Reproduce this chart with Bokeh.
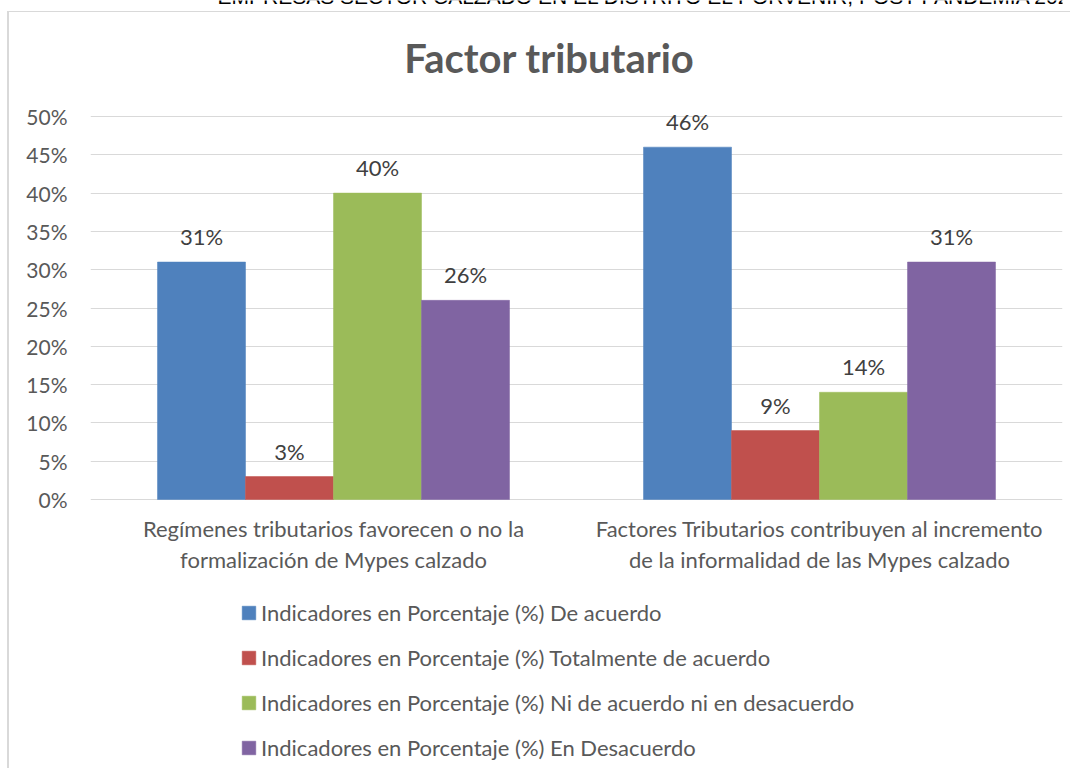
from bokeh.plotting import figure
from bokeh.models import (ColumnDataSource, FactorRange, Range1d, LabelSet, Label,
                          Legend, LegendItem, NumeralTickFormatter, FixedTicker)
from bokeh.transform import dodge
from bokeh.core.properties import value
from bokeh.embed import file_html
from bokeh.resources import INLINE

# ---------------- data ----------------
categories = [
    "Regímenes tributarios favorecen o no la\nformalización de Mypes calzado",
    "Factores Tributarios contribuyen al incremento\nde la informalidad de las Mypes calzado",
]
series_names = [
    "Indicadores en Porcentaje (%) De acuerdo",
    "Indicadores en Porcentaje (%) Totalmente de acuerdo",
    "Indicadores en Porcentaje (%) Ni de acuerdo ni en desacuerdo",
    "Indicadores en Porcentaje (%) En Desacuerdo",
]
de_acuerdo = [0.31, 0.46]
totalmente_de_acuerdo = [0.03, 0.09]
ni_de_acuerdo = [0.40, 0.14]
en_desacuerdo = [0.26, 0.31]
series_values = [de_acuerdo, totalmente_de_acuerdo, ni_de_acuerdo, en_desacuerdo]
y_ticks = [0, 0.05, 0.10, 0.15, 0.20, 0.25, 0.30, 0.35, 0.40, 0.45, 0.50]
title_text = "Factor tributario"
header_text = "EMPRESAS SECTOR CALZADO EN EL DISTRITO EL PORVENIR, POST PANDEMIA 2021"

# ---------------- style / layout (pixels) ----------------
colors = ["#4F81BD", "#C0504D", "#9BBB59", "#8064A2"]
FONT = "Lato"
FS = "22px"
TXT = "#595959"

W, H = 1070, 768
FL, FR = 90, 1062          # plot area left/right (page px)
Y0_PX, Y50_PX = 499, 116   # page px of 0% and 50%
px_per_unit = (Y0_PX - Y50_PX) / 0.5
y_top = Y0_PX / px_per_unit
y_bot = -(H - Y0_PX) / px_per_unit

def sx(px):  # page x -> frame screen x
    return px - FL

def sy(py):  # page y -> frame screen y (from bottom)
    return H - py

p = figure(
    x_range=FactorRange(factors=categories, range_padding=0),
    y_range=Range1d(y_bot, y_top),
    width=W, height=H,
    output_backend="svg", toolbar_location=None,
    min_border_left=FL, min_border_right=W - FR,
    min_border_top=0, min_border_bottom=0,
)
p.styles = {
    "position": "absolute", "left": "0px", "top": "0px",
    "background": ("linear-gradient(#d9d9d9,#d9d9d9) 7px 11px / 2px 100% no-repeat, "
                   "linear-gradient(#d9d9d9,#d9d9d9) 7px 11px / 100% 1px no-repeat, white"),
}
p.outline_line_color = None
p.background_fill_alpha = 0
p.border_fill_alpha = 0

p.xgrid.grid_line_color = None
p.ygrid.ticker = FixedTicker(ticks=y_ticks)
p.ygrid.grid_line_color = "#d9d9d9"
p.ygrid.grid_line_width = 1

p.yaxis.ticker = FixedTicker(ticks=y_ticks)
p.yaxis.formatter = NumeralTickFormatter(format="0%")
p.yaxis.axis_line_color = None
p.yaxis.major_tick_line_color = None
p.yaxis.minor_tick_line_color = None
p.yaxis.major_label_standoff = 17
p.yaxis.major_label_text_font = FONT
p.yaxis.major_label_text_font_size = "21px"
p.yaxis.major_label_text_color = TXT

p.xaxis.fixed_location = 0
p.xaxis.axis_line_color = None
p.xaxis.major_tick_line_color = None
p.xaxis.minor_tick_line_color = None
p.xaxis.major_label_standoff = 9
p.xaxis.major_label_text_font = FONT
p.xaxis.major_label_text_font_size = FS
p.xaxis.major_label_text_color = TXT
p.xaxis.major_label_text_line_height = 1.17

bar_w = 88 / ((FR - FL) / len(categories))
items = []
for i, (name, vals, col) in enumerate(zip(series_names, series_values, colors)):
    src = ColumnDataSource(dict(cat=categories, val=vals,
                                lbl=[f"{round(v * 100)}%" for v in vals]))
    off = (i - 1.5) * bar_w
    r = p.vbar(x=dodge("cat", off, range=p.x_range), top="val", bottom=0, width=bar_w,
               source=src, fill_color=col, line_color=col, line_width=0.5)
    items.append(LegendItem(label=name, renderers=[r]))
    p.add_layout(LabelSet(x=dodge("cat", off, range=p.x_range), y="val", text="lbl",
                          source=src, text_align="center", text_baseline="alphabetic",
                          y_offset=17, text_font=value(FONT), text_font_size=value(FS),
                          text_color="#404040"))

legend = Legend(items=items, location=(sx(240), sy(761)), orientation="vertical",
                glyph_width=17, glyph_height=17, label_height=26, spacing=18,
                padding=0, margin=0, border_line_color=None, background_fill_alpha=0,
                label_text_font=FONT, label_text_font_size=FS, label_text_color=TXT,
                label_standoff=4)
p.add_layout(legend)

p.add_layout(Label(x=sx(549), y=sy(57), x_units="screen", y_units="screen",
                   text=title_text, text_align="center", text_baseline="alphabetic",
                   text_font=FONT, text_font_style="bold", text_font_size="40px",
                   text_color=TXT))
p.add_layout(Label(x=sx(217), y=sy(-4), x_units="screen", y_units="screen",
                   text=header_text, text_align="left", text_baseline="alphabetic",
                   text_font="Liberation Sans", text_font_size="21px",
                   text_color="#000000"))

open("out.html", "w").write(file_html(p, INLINE))
